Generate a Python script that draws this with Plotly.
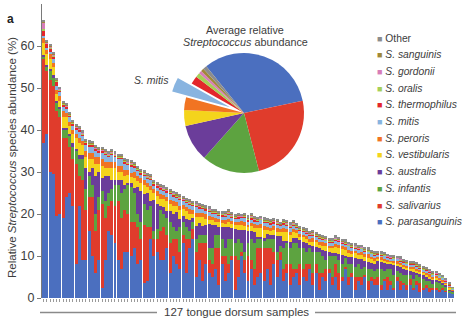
import plotly.graph_objects as go

# ---------------- data ----------------
species = ["S. parasanguinis", "S. salivarius", "S. infantis", "S. australis",
           "S. vestibularis", "S. peroris", "S. mitis", "S. thermophilus",
           "S. oralis", "S. gordonii", "S. sanguinis", "Other"]

colors = ["#4b6fbf", "#e03c2c", "#5da340", "#6b3d9a", "#f4d41c", "#f17422",
          "#88b4e0", "#e3262b", "#a6cf58", "#d77db8", "#a08838", "#8c8c8c"]

parasanguinis = [
    37, 39, 30, 29.5, 19.5, 20, 19, 24, 25, 22, 8, 22, 9, 9, 16, 10, 6, 9, 2.5, 9, 16, 15, 13, 9, 7, 11,
    11, 10, 12, 8, 9, 3.5, 4, 14, 10, 11, 9, 9, 12, 6, 10, 8, 7, 13, 6, 12, 14, 5, 9, 4, 8, 6,
    5, 7, 3, 8, 4, 6, 9, 2, 5, 10, 6, 4, 7, 3, 5, 6, 4, 7, 3, 8, 5, 9, 4, 6, 3, 5,
    6, 3, 5, 4, 7, 3, 6, 2, 5, 4, 6, 3, 5, 2, 4, 7, 3, 5, 2, 4, 3, 5, 2, 4, 3,
    3, 2, 4, 2, 3, 2, 4, 2, 3, 2, 3, 2, 3, 1.5, 2, 2.5, 1.5, 2, 2, 1.5, 2, 1.5, 1.2, 1]
salivarius = [
    20, 15, 22, 21, 25, 23, 19, 14, 11, 11, 24, 7, 19, 12, 8, 14, 10, 12, 20, 10, 6, 8, 9, 14, 12, 10,
    9, 8, 6, 9, 5, 14, 13, 3, 4, 3, 7, 8, 3, 7, 4, 6, 4, 2, 8, 2, 2.5, 6, 4, 9, 5, 3,
    3, 5, 9, 2, 6, 2, 1, 8, 4, 1, 3, 6, 2, 4, 7, 6, 8, 5, 9, 3, 4, 2, 3, 2, 5, 2,
    1, 5, 2, 4, 1, 3, 2, 4, 1, 3, 1, 2, 3, 4, 1, 0.5, 2, 1, 3, 1, 2, 0.5, 2, 1, 1.5,
    2, 1, 0.5, 3, 1, 0.5, 1, 2, 0.5, 1, 1.5, 0.5, 1, 2, 0.5, 0.5, 1, 0.3, 0.5, 0.5, 0.3, 0.2, 0.1, 0.1]
infantis = [
    0.5, 1, 2, 2, 2, 2, 2, 2, 2.5, 3, 3, 4, 5, 5, 5, 3, 4, 3, 3, 4, 3, 3, 5, 4, 6, 5,
    7, 8.5, 7, 3, 4, 5, 4, 5, 2, 2.5, 5, 3, 4, 5, 3, 2, 6, 3, 3, 2, 1.5, 3, 2, 2, 2, 3,
    4, 3, 3, 4, 2, 6, 4, 3, 5, 2, 2, 3, 5, 6, 2, 2, 1.5, 2, 2, 3, 2, 1.5, 5, 5, 4, 6,
    6, 4, 5, 3, 4, 5, 3, 5, 4, 2, 3, 5, 2, 3, 3, 2, 3, 2, 2.5, 3, 2, 2, 3, 2, 2,
    2, 4, 2, 2, 3, 3, 1.5, 2, 2, 2.5, 1, 2, 1.5, 1.5, 2, 1, 1.5, 1, 1.2, 1.5, 0.8, 1.1, 0.5, 0.4]
australis = [
    0.3, 0.5, 0.5, 0.5, 0.5, 0.5, 0.5, 0.5, 0.5, 1, 0.5, 1, 1, 5, 1, 4, 9, 6, 3, 6, 4, 2, 1, 1, 3, 1,
    0.3, 0.8, 1.1, 6.4, 7.5, 2.3, 3.9, 1.2, 7.4, 5.9, 1, 1.6, 1.6, 2.8, 3, 4.4, 1.9, 1.6, 1.7, 2.5, 1, 3.2, 2.8, 2.2, 2.4, 5.6,
    5.5, 2.3, 2, 2.8, 4.9, 2.8, 2.6, 3.5, 2.3, 3.2, 5.1, 3, 1.9, 2.7, 0.6, 0.5, 0.8, 1.2, 1.1, 1, 3.8, 2.2, 1.6, 0.5, 1.3, 1.2,
    1.4, 1.7, 1.3, 2, 0.7, 1.4, 1.1, 0.8, 1.5, 2.2, 1, 0.8, 0.6, 1.4, 2.2, 0.5, 1.8, 1.7, 2, 1.3, 2.2, 1.4, 1.6, 1.3, 1.5,
    1.8, 1.6, 1.9, 1.2, 1, 2.3, 1.1, 1.3, 1.5, 1.2, 1, 1.8, 0.5, 0.7, 0.9, 1, 0.6, 0.9, 0.8, 0.6, 0.5, 0.3, 0.3, 0.2]
vestibularis = [
    3, 2.5, 2.5, 2, 1.5, 1.5, 2.5, 2.5, 2, 2, 2.5, 3, 2.5, 2.5, 3, 2, 3, 2, 3, 2, 2, 3, 3, 2, 2, 2,
    2, 1.5, 2.5, 1.5, 2, 2, 1.5, 2.5, 1.5, 2, 1.5, 2, 2.5, 1.5, 2, 1.5, 2, 1.5, 2, 1.5, 1, 2, 1.5, 2, 1.5, 1,
    1, 0.8, 1.2, 1, 0.7, 1.2, 1, 0.8, 1, 1.3, 1, 0.8, 1.2, 1, 2, 2.2, 2, 1, 0.8, 1.2, 1, 0.9, 2, 2.2, 1.8, 1.5,
    1, 0.8, 1.2, 1, 0.7, 1, 1.2, 0.8, 1, 1.1, 0.9, 1, 1.5, 1.6, 1.4, 1.5, 1, 0.8, 1.1, 0.9, 1, 0.8, 1, 0.9, 0.8,
    0.5, 0.5, 0.5, 0.5, 0.5, 0.5, 0.5, 0.5, 0.5, 0.5, 0.5, 0.5, 0.5, 0.5, 0.5, 0.5, 0.5, 0.5, 0.4, 0.4, 0.4, 0.3, 0.3, 0.2]
peroris = [
    1, 1, 1, 1, 1, 1, 1.5, 1, 1, 1, 1, 1, 1, 1.5, 1.5, 1.5, 1.5, 1.5, 1.5, 1.5, 1.5, 1.5, 1.5, 1.5, 1.5, 1.5,
    1.2, 1, 1.5, 1.2, 1, 1.2, 1, 1, 1, 1, 1.2, 1, 1, 1, 1.2, 1, 1, 1, 1, 1.2, 1, 1, 1, 1, 1, 1,
    0.8, 0.9, 0.7, 0.8, 1, 0.8, 0.7, 0.9, 0.8, 0.8, 1, 0.7, 0.8, 0.9, 0.8, 1, 0.8, 0.7, 0.8, 0.9, 0.8, 0.8, 1, 0.8, 0.7, 0.8,
    0.7, 0.8, 0.6, 0.7, 0.7, 0.8, 0.6, 0.7, 0.8, 0.7, 0.6, 0.7, 0.8, 0.7, 0.7, 0.6, 0.7, 0.8, 0.7, 0.6, 0.7, 0.7, 0.8, 0.6, 0.7,
    0.5, 0.6, 0.5, 0.4, 0.5, 0.5, 0.6, 0.5, 0.4, 0.5, 0.5, 0.6, 0.5, 0.4, 0.5, 0.5, 0.5, 0.4, 0.4, 0.4, 0.4, 0.3, 0.3, 0.2]
mitis = [
    0.5, 0.5, 0.5, 0.8, 1, 1, 1, 1, 1, 1, 1, 1.5, 1, 1.5, 1.5, 1.5, 1.5, 1, 1.5, 1.5, 1, 1.5, 1, 1.5, 1.5, 1.5,
    1.2, 1.5, 1, 1.2, 1, 1.2, 1, 1.5, 1, 1, 1.2, 1, 1, 1.5, 1, 1, 1.5, 1, 1, 1, 1, 1.5, 1, 1, 1, 1,
    0.8, 1, 0.7, 0.9, 0.8, 1.1, 0.8, 0.7, 0.9, 0.8, 1, 0.8, 0.9, 0.7, 0.8, 0.9, 0.8, 1, 0.8, 0.7, 0.9, 0.8, 1, 0.8, 0.9, 0.8,
    0.7, 0.8, 0.7, 0.6, 0.8, 0.7, 0.7, 0.9, 0.7, 0.6, 0.8, 0.7, 0.7, 0.8, 0.6, 0.7, 0.9, 0.7, 0.6, 0.7, 0.8, 0.7, 0.6, 0.7, 0.7,
    0.5, 0.5, 0.6, 0.5, 0.4, 0.5, 0.6, 0.5, 0.5, 0.4, 0.5, 0.5, 0.6, 0.5, 0.4, 0.5, 0.5, 0.5, 0.4, 0.4, 0.4, 0.3, 0.3, 0.2]
thermophilus = [
    1.5, 1, 1, 0.8, 1, 0.5, 0.5, 0.5, 0.5, 0.5, 0.5, 0.5, 0.5, 0.5, 0.5, 0.5, 0.5, 0.5, 0.5, 0.5, 0.5, 0.5, 0.5, 0.5, 0.5, 0.5,
    0.4, 0.5, 0.4, 0.3, 0.4, 0.3, 0.4, 0.3, 0.4, 0.3, 0.4, 0.3, 0.4, 0.3, 0.4, 0.3, 0.4, 0.3, 0.3, 0.4, 0.3, 0.3, 0.4, 0.3, 0.3, 0.3,
    0.3, 0.4, 0.3, 0.3, 0.2, 0.3, 0.4, 0.3, 0.3, 0.2, 0.3, 0.3, 0.4, 0.3, 0.3, 0.2, 0.3, 0.3, 0.4, 0.3, 0.3, 0.2, 0.3, 0.3, 0.4, 0.3,
    0.2, 0.3, 0.2, 0.2, 0.1, 0.2, 0.3, 0.2, 0.2, 0.2, 0.1, 0.2, 0.3, 0.2, 0.2, 0.2, 0.1, 0.2, 0.2, 0.3, 0.2, 0.2, 0.1, 0.2, 0.2,
    0.2, 0.2, 0.1, 0.2, 0.2, 0.2, 0.1, 0.2, 0.2, 0.2, 0.1, 0.2, 0.2, 0.2, 0.1, 0.2, 0.2, 0.1, 0.1, 0.1, 0.1, 0.1, 0.1, 0.05]
oralis = [
    0.3, 0.2, 0.2, 0.2, 0.3, 0.2, 0.2, 0.2, 0.2, 0.2, 0.2, 0.2, 0.2, 0.2, 0.2, 0.2, 0.2, 0.2, 0.2, 0.2, 0.2, 0.2, 0.2, 0.2, 0.2, 0.2,
    0.2, 0.3, 0.2, 0.2, 0.1, 0.2, 0.2, 0.3, 0.2, 0.2, 0.1, 0.2, 0.2, 0.2, 0.3, 0.2, 0.2, 0.1, 0.2, 0.2, 0.2, 0.3, 0.2, 0.2, 0.1, 0.2,
    0.2, 0.2, 0.1, 0.2, 0.3, 0.2, 0.2, 0.1, 0.2, 0.2, 0.2, 0.3, 0.2, 0.2, 0.1, 0.2, 0.2, 0.2, 0.3, 0.2, 0.2, 0.1, 0.2, 0.2, 0.2, 0.2,
    0.2, 0.1, 0.2, 0.2, 0.2, 0.3, 0.2, 0.2, 0.1, 0.2, 0.2, 0.2, 0.2, 0.1, 0.2, 0.2, 0.3, 0.2, 0.2, 0.1, 0.2, 0.2, 0.2, 0.1, 0.2,
    0.1, 0.1, 0.2, 0.1, 0.1, 0.1, 0.1, 0.2, 0.1, 0.1, 0.1, 0.1, 0.1, 0.2, 0.1, 0.1, 0.1, 0.1, 0.1, 0.1, 0.1, 0.1, 0.1, 0.05]
gordonii = [
    1.5, 0.2, 0.1, 0.1, 0.1, 0.1, 0.1, 0.1, 0.1, 0.1, 0.1, 0.1, 0.1, 0.1, 0.1, 0.1, 0.1, 0.1, 0.1, 0.1, 0.1, 0.1, 0.1, 0.1, 0.1, 0.1,
    0.1, 0.1, 0.2, 0.1, 0.1, 0.1, 0.1, 0.1, 0.1, 0.2, 0.1, 0.1, 0.1, 0.1, 0.1, 0.1, 0.1, 0.2, 0.1, 0.1, 0.1, 0.1, 0.1, 0.1, 0.1, 0.1,
    0.1, 0.1, 0.1, 0.1, 0.2, 0.1, 0.1, 0.1, 0.1, 0.1, 0.1, 0.1, 0.2, 0.1, 0.1, 0.1, 0.1, 0.1, 0.1, 0.1, 0.2, 0.1, 0.1, 0.1, 0.1, 0.1,
    0.1, 0.1, 0.1, 0.2, 0.1, 0.1, 0.1, 0.1, 0.1, 0.1, 0.1, 0.1, 0.2, 0.1, 0.1, 0.1, 0.1, 0.1, 0.1, 0.1, 0.1, 0.1, 0.1, 0.1, 0.1,
    0.1, 0.1, 0.1, 0.1, 0.1, 0.1, 0.1, 0.1, 0.1, 0.1, 0.1, 0.1, 0.1, 0.1, 0.1, 0.1, 0.1, 0.1, 0.1, 0.1, 0.1, 0.1, 0.1, 0.05]
sanguinis = [
    0.2, 0.1, 0.1, 0.1, 0.1, 0.1, 0.2, 0.2, 0.1, 0.1, 0.1, 0.1, 0.1, 0.1, 0.2, 0.1, 0.1, 0.1, 0.1, 0.1, 0.1, 0.1, 0.1, 0.1, 0.1, 0.1,
    0.1, 0.1, 0.1, 0.2, 0.1, 0.1, 0.1, 0.1, 0.2, 0.1, 0.1, 0.1, 0.1, 0.1, 0.1, 0.2, 0.1, 0.1, 0.1, 0.1, 0.1, 0.1, 0.2, 0.1, 0.1, 0.1,
    0.1, 0.1, 0.1, 0.1, 0.1, 0.2, 0.1, 0.1, 0.1, 0.1, 0.1, 0.1, 0.1, 0.2, 0.1, 0.1, 0.1, 0.1, 0.1, 0.2, 0.1, 0.1, 0.1, 0.1, 0.1, 0.1,
    0.1, 0.1, 0.1, 0.1, 0.1, 0.1, 0.2, 0.1, 0.1, 0.1, 0.1, 0.1, 0.1, 0.1, 0.2, 0.1, 0.1, 0.1, 0.1, 0.1, 0.1, 0.1, 0.1, 0.1, 0.1,
    0.1, 0.1, 0.1, 0.1, 0.1, 0.1, 0.1, 0.1, 0.1, 0.1, 0.1, 0.1, 0.1, 0.1, 0.1, 0.1, 0.1, 0.1, 0.1, 0.1, 0.1, 0.1, 0.1, 0.05]
other = [
    0.5, 0.5, 0.5, 0.5, 0.3, 0.3, 0.5, 0.5, 0.5, 0.5, 0.5, 0.5, 0.5, 0.5, 0.6, 0.6, 0.6, 0.6, 0.6, 0.6, 0.6, 0.5, 0.5, 0.5, 0.5, 0.5,
    0.5, 0.6, 0.5, 0.4, 0.5, 0.6, 0.5, 0.5, 0.4, 0.5, 0.6, 0.5, 0.5, 0.5, 0.4, 0.6, 0.5, 0.5, 0.5, 0.6, 0.4, 0.5, 0.5, 0.5, 0.6, 0.5,
    0.5, 0.5, 0.6, 0.4, 0.5, 0.5, 0.6, 0.5, 0.5, 0.4, 0.5, 0.6, 0.5, 0.5, 0.5, 0.4, 0.6, 0.5, 0.5, 0.5, 0.6, 0.4, 0.5, 0.5, 0.5, 0.5,
    0.5, 0.4, 0.5, 0.6, 0.5, 0.5, 0.4, 0.5, 0.5, 0.6, 0.5, 0.4, 0.5, 0.5, 0.5, 0.6, 0.4, 0.5, 0.5, 0.5, 0.4, 0.5, 0.6, 0.5, 0.5,
    0.4, 0.4, 0.5, 0.4, 0.3, 0.4, 0.4, 0.5, 0.4, 0.3, 0.4, 0.4, 0.4, 0.3, 0.4, 0.4, 0.4, 0.3, 0.2, 0.2, 0.2, 0.2, 0.2, 0.1]

# average relative abundance shown in the pie (%)
pie_values = [32.4, 24.2, 15.5, 9.9, 4.3, 3.4, 3.9, 2.2, 1.2, 0.8, 0.8, 1.0]
pie_pull = [0, 0, 0, 0, 0, 0, 0.25, 0, 0, 0, 0, 0]

yticks = [0, 10, 20, 30, 40, 50, 60]
n_samples = 127

series = [parasanguinis, salivarius, infantis, australis, vestibularis, peroris,
          mitis, thermophilus, oralis, gordonii, sanguinis, other]
assert all(len(s) == n_samples for s in series), [len(s) for s in series]

samples = list(range(1, n_samples + 1))

# ---------------- figure ----------------
FONT = "Arial, Liberation Sans, Helvetica, sans-serif"
TXT = "#3d3d3d"
W, H = 468, 324
ML, MR, MT, MB = 42, 14, 4, 26
PW, PH = W - ML - MR, H - MT - MB


def px(x):
    return (x - ML) / PW


def py(y):
    return (H - MB - y) / PH


fig = go.Figure()
for name, col, vals in zip(species, colors, series):
    fig.add_trace(go.Bar(x=samples, y=vals, name=name, marker_color=col,
                         marker_line_width=0, showlegend=False))

# pie inset
cx, cy, r, pull_max = 244, 113, 60, 0.25
half = r * (1 + pull_max)
fig.add_trace(go.Pie(
    values=pie_values, labels=species, marker=dict(colors=colors, line=dict(width=0)),
    sort=False, direction="clockwise", rotation=-39, pull=pie_pull,
    textinfo="none", hoverinfo="label+percent", showlegend=False,
    domain=dict(x=[px(cx - half), px(cx + half)], y=[py(cy + half), py(cy - half)])))

annotations = []
# legend (top = Other)
leg_y0, leg_dy = 38.3, 16.67
for k, i in enumerate(range(len(species) - 1, -1, -1)):
    nm = species[i]
    label = nm if nm == "Other" else "<i>%s</i>" % nm
    annotations.append(dict(
        x=px(375), y=py(leg_y0 + k * leg_dy), xref="paper", yref="paper",
        xanchor="left", yanchor="middle", showarrow=False,
        text="<span style='color:%s;font-size:9px'>■</span> %s" % (colors[i], label),
        font=dict(family=FONT, size=10.3, color=TXT)))

annotations += [
    dict(x=px(10), y=py(19), text="<b>a</b>", font=dict(family=FONT, size=12, color="#222")),
    dict(x=px(12), y=py(158), text="Relative <i>Streptococcus</i> species abundance (%)",
         textangle=-90, font=dict(family=FONT, size=11.5, color=TXT)),
    dict(x=px(245), y=py(30), text="Average relative", font=dict(family=FONT, size=10.8, color=TXT)),
    dict(x=px(245), y=py(42), text="<i>Streptococcus</i> abundance", font=dict(family=FONT, size=10.8, color=TXT)),
    dict(x=px(151), y=py(80), text="<i>S. mitis</i>", font=dict(family=FONT, size=10.5, color=TXT)),
    dict(x=px(236.5), y=py(312.5), text="127 tongue dorsum samples", font=dict(family=FONT, size=11.5, color=TXT)),
]
for a in annotations[-6:]:
    a.update(xref="paper", yref="paper", showarrow=False, xanchor="center", yanchor="middle")

shapes = [
    dict(type="line", xref="paper", yref="paper", x0=px(40), x1=px(157), y0=py(312.5), y1=py(312.5),
         line=dict(color="#8a8a8a", width=1.5)),
    dict(type="line", xref="paper", yref="paper", x0=px(315), x1=px(456), y0=py(312.5), y1=py(312.5),
         line=dict(color="#8a8a8a", width=1.5)),
]

fig.update_layout(
    width=W, height=H, margin=dict(l=ML, r=MR, t=MT, b=MB),
    paper_bgcolor="white", plot_bgcolor="white",
    barmode="stack", bargap=0.08,
    font=dict(family=FONT, color=TXT),
    annotations=annotations, shapes=shapes,
    xaxis=dict(range=[0.5, n_samples + 0.5], showgrid=False, zeroline=False, showline=False,
               ticks="outside", ticklen=3, tickwidth=1, tickcolor="#9a9a9a",
               tickmode="linear", tick0=1, dtick=1, showticklabels=False),
    yaxis=dict(range=[0, 70], showgrid=False, zeroline=False, showline=True, linecolor="#7a7a7a",
               linewidth=1, ticks="outside", ticklen=4, tickcolor="#7a7a7a",
               tickvals=yticks, tickfont=dict(family=FONT, size=12.5, color=TXT)),
)

fig.write_html("out.html", config={"displayModeBar": False},
               post_script="document.body.style.margin='0px';document.body.style.padding='0px';")
